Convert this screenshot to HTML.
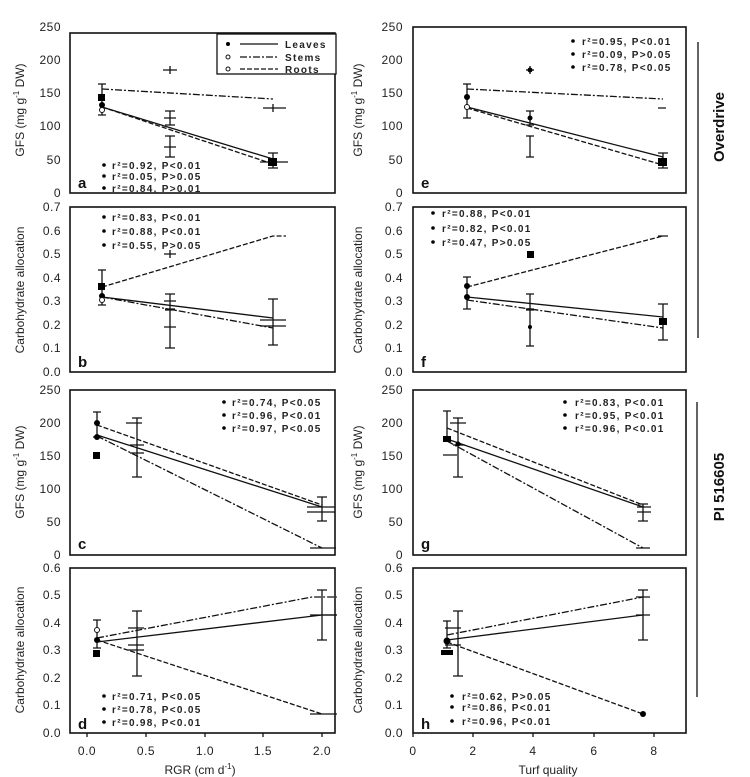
<!DOCTYPE html>
<html><head><meta charset="utf-8"><style>
html,body{margin:0;padding:0;background:#fff;}
svg{display:block;font-family:"Liberation Sans",Arial,sans-serif;}
.tk{font-size:12px;fill:#222;letter-spacing:0.5px}
.st{font-size:10px;font-weight:bold;fill:#222;letter-spacing:1.3px}
.ti{font-size:12px;fill:#222}
.lb{font-size:15px;font-weight:bold;fill:#111}
.fr{fill:none;stroke:#111;stroke-width:1.6}
.s{stroke:#111;stroke-width:1.3;fill:none}
.dd{stroke:#111;stroke-width:1.3;fill:none;stroke-dasharray:7 2 2 2}
.da{stroke:#111;stroke-width:1.3;fill:none;stroke-dasharray:5 2}
.eb{stroke:#111;stroke-width:1.3;fill:none}
</style></head><body>
<svg width="750" height="777" viewBox="0 0 750 777">
<!-- frames -->
<rect class="fr" x="70" y="33" width="265" height="160"/>
<rect class="fr" x="70" y="207" width="265" height="165"/>
<rect class="fr" x="70" y="390" width="265" height="165"/>
<rect class="fr" x="70" y="568" width="265" height="165"/>
<rect class="fr" x="413" y="27" width="273" height="166"/>
<rect class="fr" x="413" y="207" width="273" height="165"/>
<rect class="fr" x="413" y="390" width="273" height="165"/>
<rect class="fr" x="413" y="568" width="273" height="165"/>

<!-- left tick labels -->
<g class="tk" text-anchor="end">
<text x="61" y="31">250</text><text x="61" y="64">200</text><text x="61" y="97">150</text><text x="61" y="130">100</text><text x="61" y="164">50</text><text x="61" y="197">0</text>
<text x="61" y="211">0.7</text><text x="61" y="235">0.6</text><text x="61" y="258">0.5</text><text x="61" y="282">0.4</text><text x="61" y="305">0.3</text><text x="61" y="329">0.2</text><text x="61" y="352">0.1</text><text x="61" y="376">0.0</text>
<text x="61" y="394">250</text><text x="61" y="427">200</text><text x="61" y="460">150</text><text x="61" y="493">100</text><text x="61" y="526">50</text><text x="61" y="559">0</text>
<text x="61" y="572">0.6</text><text x="61" y="599">0.5</text><text x="61" y="627">0.4</text><text x="61" y="654">0.3</text><text x="61" y="682">0.2</text><text x="61" y="709">0.1</text><text x="61" y="737">0.0</text>
</g>
<g class="tk" text-anchor="end">
<text x="403" y="31">250</text><text x="403" y="64">200</text><text x="403" y="97">150</text><text x="403" y="130">100</text><text x="403" y="164">50</text><text x="403" y="197">0</text>
<text x="403" y="211">0.7</text><text x="403" y="235">0.6</text><text x="403" y="258">0.5</text><text x="403" y="282">0.4</text><text x="403" y="305">0.3</text><text x="403" y="329">0.2</text><text x="403" y="352">0.1</text><text x="403" y="376">0.0</text>
<text x="403" y="394">250</text><text x="403" y="427">200</text><text x="403" y="460">150</text><text x="403" y="493">100</text><text x="403" y="526">50</text><text x="403" y="559">0</text>
<text x="403" y="572">0.6</text><text x="403" y="599">0.5</text><text x="403" y="627">0.4</text><text x="403" y="654">0.3</text><text x="403" y="682">0.2</text><text x="403" y="709">0.1</text><text x="403" y="737">0.0</text>
</g>
<!-- x ticks -->
<g class="tk" text-anchor="middle">
<text x="87" y="755">0.0</text><text x="146" y="755">0.5</text><text x="205" y="755">1.0</text><text x="263" y="755">1.5</text><text x="322" y="755">2.0</text>
<text x="413" y="755">0</text><text x="473" y="755">2</text><text x="533" y="755">4</text><text x="594" y="755">6</text><text x="654" y="755">8</text>
</g>
<path class="eb" d="M87 733v4M146 733v4M205 733v4M263 733v4M322 733v4M413 733v4M473 733v4M533 733v4M594 733v4M654 733v4"/>
<text class="ti" x="200" y="774" text-anchor="middle">RGR (cm d<tspan font-size="8" dy="-5">-1</tspan><tspan dy="5">)</tspan></text>
<text class="ti" x="548" y="774" text-anchor="middle">Turf quality</text>

<!-- axis titles -->
<g class="ti" text-anchor="middle">
<text transform="translate(24,110) rotate(-90)">GFS (mg g<tspan font-size="8" dy="-5">-1</tspan><tspan dy="5"> DW)</tspan></text>
<text transform="translate(24,290) rotate(-90)">Carbohydrate allocation</text>
<text transform="translate(24,472) rotate(-90)">GFS (mg g<tspan font-size="8" dy="-5">-1</tspan><tspan dy="5"> DW)</tspan></text>
<text transform="translate(24,650) rotate(-90)">Carbohydrate allocation</text>
<text transform="translate(362,110) rotate(-90)">GFS (mg g<tspan font-size="8" dy="-5">-1</tspan><tspan dy="5"> DW)</tspan></text>
<text transform="translate(362,290) rotate(-90)">Carbohydrate allocation</text>
<text transform="translate(362,472) rotate(-90)">GFS (mg g<tspan font-size="8" dy="-5">-1</tspan><tspan dy="5"> DW)</tspan></text>
<text transform="translate(362,650) rotate(-90)">Carbohydrate allocation</text>
</g>

<!-- right side labels -->
<path class="eb" d="M698 42V338M697 402V697"/>
<text class="lb" transform="translate(724,127) rotate(-90)" text-anchor="middle" font-size="14">Overdrive</text>
<text class="lb" transform="translate(724,487) rotate(-90)" text-anchor="middle" font-size="14">PI 516605</text>

<!-- panel letters -->
<g class="lb"><text x="78" y="188">a</text><text x="78" y="367">b</text><text x="78" y="549">c</text><text x="78" y="729">d</text>
<text x="421" y="188">e</text><text x="421" y="367">f</text><text x="421" y="549">g</text><text x="421" y="729">h</text></g>

<!-- PANEL A -->
<rect x="217" y="34" width="119" height="40" fill="#fff" stroke="#111" stroke-width="1.3"/>
<path class="s" d="M240 44H278"/><path class="dd" d="M240 57H278"/><path class="da" d="M240 69H278"/>
<circle cx="228" cy="44" r="2"/><circle cx="228" cy="57" r="2" fill="none" stroke="#111"/><circle cx="228" cy="69" r="2" fill="none" stroke="#111"/>
<g class="st" font-size="10"><text x="285" y="48">Leaves</text><text x="285" y="61">Stems</text><text x="285" y="73">Roots</text></g>
<path class="s" d="M102 107L273 159"/><path class="dd" d="M102 89L273 99"/><path class="da" d="M102 107L273 164"/>
<path class="eb" d="M102 84V115M98 84h8M98 115h8M170 66V74M163 70h14M170 111V125M165 111h10M165 125h10M164 118h12M170 136V157M165 136h10M165 157h10M164 147h12M263 108h23M273 104v8M260 162h28M273 153V168M268 153h10M268 168h10"/>
<rect x="98" y="94" width="7" height="7"/><circle cx="102" cy="105" r="3"/><circle cx="102" cy="110" r="2.5" fill="#fff" stroke="#111"/>
<rect x="268" y="158" width="9" height="8"/>
<g class="st"><text x="112" y="169">r²=0.92, P&lt;0.01</text><text x="112" y="180">r²=0.05, P&gt;0.05</text><text x="112" y="192">r²=0.84, P&gt;0.01</text></g>
<g><circle cx="104" cy="165" r="1.8"/><circle cx="104" cy="176" r="1.8"/><circle cx="104" cy="188" r="1.8"/></g>

<!-- PANEL B -->
<path class="da" d="M102 287L273 236H286"/><path class="s" d="M102 297L273 318"/><path class="dd" d="M102 297L273 328"/>
<path class="eb" d="M102 270V305M98 270h8M98 305h8M164 254h12M170 250v8M170 294V309M165 294h10M165 309h10M164 301h12M170 310V348M165 310h10M165 348h10M164 327h12M273 299V345M268 299h10M268 345h10M260 320h26M260 326h26"/>
<rect x="98" y="283" width="7" height="7"/><circle cx="102" cy="296" r="3"/><circle cx="102" cy="300" r="2.5" fill="#fff" stroke="#111"/>
<g class="st"><text x="112" y="221">r²=0.83, P&lt;0.01</text><text x="112" y="235">r²=0.88, P&lt;0.01</text><text x="112" y="249">r²=0.55, P&gt;0.05</text></g>
<circle cx="104" cy="217" r="1.8"/><circle cx="104" cy="231" r="1.8"/><circle cx="104" cy="245" r="1.8"/>

<!-- PANEL C -->
<path class="da" d="M97 425L322 505"/><path class="s" d="M97 435L322 507"/><path class="dd" d="M97 436L322 548"/>
<path class="eb" d="M97 412V437M93 412h8M93 437h8M137 418V477M132 418h10M132 477h10M126 423h16M130 445h14M130 453h14M307 507h28M307 512h28M322 497V521M317 497h10M317 521h10M310 548h26"/>
<rect x="93" y="452" width="7" height="7"/><circle cx="97" cy="423" r="3"/><circle cx="97" cy="437" r="3"/>
<g class="st"><text x="232" y="406">r²=0.74, P&lt;0.05</text><text x="232" y="419">r²=0.96, P&lt;0.01</text><text x="232" y="432">r²=0.97, P&lt;0.05</text></g>
<circle cx="224" cy="402" r="1.8"/><circle cx="224" cy="415" r="1.8"/><circle cx="224" cy="428" r="1.8"/>

<!-- PANEL D -->
<path class="dd" d="M97 638L312 597H337"/><path class="s" d="M97 642L322 615H337"/><path class="da" d="M97 640L322 714"/>
<path class="eb" d="M97 620V648M93 620h8M93 648h8M137 611V676M132 611h10M132 676h10M128 628h16M128 645h16M128 650h16M310 615h27M322 590V640M317 590h10M317 640h10M310 714h27"/>
<rect x="93" y="650" width="7" height="7"/><circle cx="97" cy="630" r="2.5" fill="#fff" stroke="#111"/><circle cx="97" cy="640" r="3"/>
<g class="st"><text x="112" y="700">r²=0.71, P&lt;0.05</text><text x="112" y="713">r²=0.78, P&lt;0.05</text><text x="112" y="726">r²=0.98, P&lt;0.01</text></g>
<circle cx="104" cy="696" r="1.8"/><circle cx="104" cy="709" r="1.8"/><circle cx="104" cy="722" r="1.8"/>

<!-- PANEL E -->
<path class="s" d="M467 107L663 157"/><path class="dd" d="M467 89L663 99"/><path class="da" d="M467 108L663 165"/>
<path class="eb" d="M467 84V118M463 84h8M463 118h8M530 66V74M526 70h8M530 111V125M526 111h8M526 125h8M530 136V157M526 136h8M526 157h8M658 108h8M663 153V168M658 153h10M658 168h10"/>
<circle cx="467" cy="97" r="3"/><circle cx="467" cy="107" r="2.5" fill="#fff" stroke="#111"/><circle cx="530" cy="118" r="2.5"/><circle cx="530" cy="70" r="2.5"/>
<rect x="658" y="158" width="9" height="8"/>
<g class="st"><text x="582" y="45">r²=0.95, P&lt;0.01</text><text x="582" y="58">r²=0.09, P&gt;0.05</text><text x="582" y="71">r²=0.78, P&lt;0.05</text></g>
<circle cx="573" cy="41" r="1.8"/><circle cx="573" cy="54" r="1.8"/><circle cx="573" cy="67" r="1.8"/>

<!-- PANEL F -->
<path class="da" d="M467 287L663 236"/><path class="s" d="M467 297L663 317"/><path class="dd" d="M467 300L663 328"/>
<path class="eb" d="M467 277V309M463 277h8M463 309h8M530 294V309M526 294h8M526 309h8M530 310V346M526 310h8M526 346h8M658 236h10M663 304V340M658 304h10M658 340h10"/>
<circle cx="467" cy="286" r="3"/><circle cx="467" cy="297" r="3"/><rect x="527" y="251" width="7" height="7"/><circle cx="530" cy="327" r="2"/><rect x="659" y="318" width="8" height="7"/>
<g class="st"><text x="442" y="217">r²=0.88, P&lt;0.01</text><text x="442" y="232">r²=0.82, P&lt;0.01</text><text x="442" y="246">r²=0.47, P&gt;0.05</text></g>
<circle cx="433" cy="213" r="1.8"/><circle cx="433" cy="228" r="1.8"/><circle cx="433" cy="242" r="1.8"/>

<!-- PANEL G -->
<path class="da" d="M447 428L643 505"/><path class="s" d="M447 439L643 507"/><path class="dd" d="M447 441L643 548"/>
<path class="eb" d="M447 411V437M443 411h8M443 437h8M458 418V477M453 418h10M453 477h10M450 423h16M443 455h14M453 445h12M637 507h14M637 512h14M643 504V521M638 504h10M638 521h10M636 548h14"/>
<rect x="443" y="436" width="8" height="6"/><circle cx="458" cy="444" r="2.5"/>
<g class="st"><text x="575" y="406">r²=0.83, P&lt;0.01</text><text x="575" y="419">r²=0.95, P&lt;0.01</text><text x="575" y="432">r²=0.96, P&lt;0.01</text></g>
<circle cx="565" cy="402" r="1.8"/><circle cx="565" cy="415" r="1.8"/><circle cx="565" cy="428" r="1.8"/>

<!-- PANEL H -->
<path class="dd" d="M447 635L643 597"/><path class="s" d="M447 640L643 615"/><path class="da" d="M447 642L643 714"/>
<path class="eb" d="M447 621V648M443 621h8M443 648h8M458 611V676M453 611h10M453 676h10M445 628h16M445 645h16M643 590V640M638 590h10M638 640h10M636 615h14M636 597h14"/>
<circle cx="447" cy="641" r="3.5"/><rect x="441" y="650" width="12" height="5"/><circle cx="643" cy="714" r="3"/>
<g class="st"><text x="462" y="700">r²=0.62, P&gt;0.05</text><text x="462" y="711">r²=0.86, P&lt;0.01</text><text x="462" y="725">r²=0.96, P&lt;0.01</text></g>
<circle cx="452" cy="696" r="1.8"/><circle cx="452" cy="707" r="1.8"/><circle cx="452" cy="721" r="1.8"/>
</svg>
</body></html>
